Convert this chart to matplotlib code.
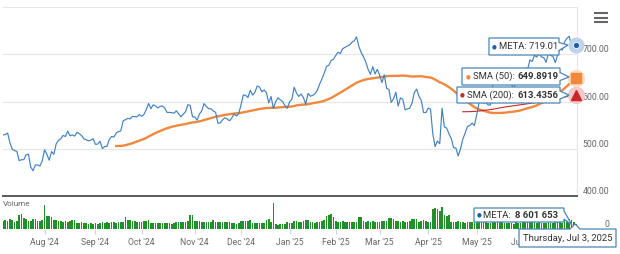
import matplotlib
matplotlib.use("Agg")
import matplotlib.pyplot as plt
import matplotlib.transforms as mtransforms
from matplotlib.patches import Polygon
import pandas as pd

plt.rcParams["font.family"] = ["Roboto", "DejaVu Sans"]

# META daily closes, Jul 8 2024 .. Jul 3 2025 (one per trading day)
close_2024 = [
    # Jul
    529.3, 530.0, 533.3, 512.7, 498.9, 496.2, 494.3, 474.8, 476.8, 476.8,
    487.0, 488.7, 461.3, 453.4, 465.7, 465.7, 463.2, 474.8,
    # Aug
    497.7, 488.1, 475.7, 494.1, 488.1, 510.1, 517.8, 520.9, 528.2, 525.9,
    537.3, 527.4, 529.3, 526.7, 535.0, 531.9, 528.0, 521.1, 519.1, 516.8,
    518.2, 521.3,
    # Sep
    509.3, 509.9, 515.8, 500.3, 504.8, 505.0, 520.0, 526.0, 524.6, 533.3,
    536.3, 537.9, 559.1, 561.4, 564.4, 563.3, 568.3, 567.8, 567.4, 572.4,
    # Oct
    568.6, 572.8, 582.8, 595.9, 584.8, 592.9, 590.5, 586.3, 589.9, 590.4,
    586.3, 576.8, 576.9, 576.5, 575.2, 580.3, 574.2, 567.8, 573.3, 578.2,
    593.3, 591.8, 567.6,
    # Nov
    567.2, 560.4, 573.5, 580.0, 595.6, 589.3, 584.8, 584.6, 580.0, 577.2,
    554.1, 554.4, 561.1, 565.5, 563.1, 559.1, 565.1, 573.5, 569.2, 574.3,
    # Dec
    592.8, 613.7, 613.0, 608.4, 623.8, 613.6, 619.3, 632.7, 630.8, 620.4,
    624.2, 618.8, 597.2, 610.5, 585.3, 599.8, 607.8, 603.4, 599.8, 591.2,
    585.5,
]
close_2025 = [
    # Jan
    599.2, 604.6, 630.2, 617.9, 610.7, 615.9, 608.3, 594.3, 617.1, 611.3,
    612.8, 616.5, 623.5, 636.5, 647.5, 659.9, 674.3, 676.5, 687.0, 689.2,
    # Feb
    697.5, 704.2, 701.6, 711.9, 714.5, 717.4, 719.8, 725.4, 728.6, 736.7,
    716.4, 703.8, 694.8, 683.6, 668.1, 657.5, 673.7, 658.2, 668.2,
    # Mar
    655.6, 640.0, 656.5, 627.9, 625.7, 598.0, 605.7, 619.6, 590.3, 607.6,
    604.9, 582.4, 584.1, 586.0, 596.3, 618.9, 626.3, 611.0, 602.6, 576.7,
    576.4,
    # Apr
    586.0, 583.9, 531.6, 504.7, 516.3, 510.5, 585.8, 546.3, 543.6, 531.5,
    521.5, 502.3, 501.5, 484.7, 500.3, 520.3, 533.2, 547.3, 549.0, 554.4,
    549.0,
    # May
    572.2, 597.0, 599.3, 596.8, 598.0, 592.5, 592.9, 638.4, 657.7, 650.4,
    642.5, 640.3, 640.3, 635.5, 636.6, 636.6, 627.1, 642.3, 643.6, 645.1,
    647.5,
    # Jun
    670.9, 666.9, 687.95, 684.6, 697.7, 694.1, 702.4, 694.1, 693.1, 682.9,
    702.1, 697.2, 695.8, 682.35, 698.5, 712.2, 708.7, 726.1, 733.6, 738.1,
    # Jul
    719.2, 713.6, 719.01,
]

# daily volume, millions of shares
volume_2024 = [
    12.5, 14.2, 13.1, 16.0, 15.3, 11.8, 13.6, 21.8, 24.0, 17.2, 16.5, 12.1,
    13.4, 16.9, 15.8, 12.7, 13.3, 14.8,
    38.2, 21.5, 20.8, 19.6, 14.2, 14.7, 13.3, 12.2, 11.9, 12.6, 11.7, 12.4,
    14.1, 14.5, 10.2, 9.8, 10.6, 8.9, 9.3, 8.7, 9.1, 8.5,
    9.2, 8.8, 9.6, 10.9, 10.3, 11.0, 10.1, 10.7, 11.2, 10.4, 11.3, 10.9,
    11.6, 19.5, 14.3, 14.0, 13.2, 12.6, 11.1, 10.8,
    11.0, 13.2, 12.8, 13.9, 9.6, 10.1, 9.2, 9.8, 9.4, 9.0, 9.7, 9.3, 9.9,
    8.8, 9.5, 11.0, 10.6, 11.4, 10.8, 11.2, 12.4, 22.1, 22.6,
    13.4, 12.6, 12.9, 11.2, 10.7, 11.5, 10.9, 11.1, 14.3, 11.3, 10.8, 11.6,
    10.5, 11.0, 10.7, 11.2, 10.4, 9.2, 8.8, 9.0,
    12.8, 12.2, 13.0, 12.5, 14.1, 9.6, 9.3, 9.8, 9.4, 9.9, 9.2, 14.2, 15.8,
    11.0, 42.0, 7.6, 7.2, 7.8, 7.4, 7.9, 10.8,
]
volume_2025 = [
    9.6, 10.3, 12.9, 13.5, 11.8, 10.7, 12.4, 13.8, 14.6, 11.2, 10.9, 9.8,
    10.6, 11.5, 12.1, 15.2, 21.0, 22.6, 23.5, 19.4,
    12.1, 11.4, 10.8, 12.6, 11.9, 10.5, 11.2, 12.0, 10.9, 11.7, 18.6, 19.3,
    12.4, 11.8, 13.1, 11.5, 12.2, 10.9, 11.6,
    11.8, 13.2, 12.5, 12.9, 17.2, 17.8, 16.4, 12.6, 13.4, 11.9, 12.3, 11.5,
    10.8, 12.1, 16.1, 16.8, 15.4, 11.7, 12.6, 13.9, 12.2,
    11.5, 12.0, 31.8, 33.5, 32.2, 28.9, 35.4, 22.6, 21.3, 22.0, 11.8, 10.9,
    11.3, 12.1, 10.6, 11.4, 10.2, 10.9, 11.6, 10.8, 11.3,
    22.4, 18.6, 12.8, 10.9, 11.6, 10.4, 9.8, 16.2, 18.9, 13.1, 11.4, 12.0,
    9.6, 9.2, 10.1, 9.7, 8.8, 10.5, 9.9, 9.4, 13.6,
    11.6, 10.8, 12.9, 11.2, 13.4, 9.9, 10.6, 9.4, 9.1, 10.3, 11.5, 9.8,
    8.9, 21.8, 11.7, 13.2, 10.4, 15.6, 17.3, 16.8,
    14.2, 11.5, 8.601653,
]

market_holidays = ["2024-09-02", "2024-11-28", "2024-12-25", "2025-01-01",
                   "2025-01-09", "2025-01-20", "2025-02-17", "2025-04-18",
                   "2025-05-26", "2025-06-19"]

price_ticks = [400, 500, 600, 700, 800]
price_labels = ["400.00", "500.00", "600.00", "700.00", ""]

tip_meta = "META: 719.01"
tip_sma50 = ("SMA (50): ", "649.8919")
tip_sma200 = ("SMA (200): ", "613.4356")
tip_vol = ("META: ", "8 601 653")
tip_date = "Thursday, Jul 3, 2025"

close = close_2024 + close_2025
volume = volume_2024 + volume_2025
dates = pd.bdate_range("2024-07-08", "2025-07-03")
dates = dates[~dates.isin(pd.to_datetime(market_holidays))]
assert len(dates) == len(close) == len(volume), (len(dates), len(close), len(volume))

s = pd.Series(close)
sma50 = s.rolling(50).mean()
sma200 = s.rolling(200).mean()
idx = list(range(len(close)))

BLUE = "#4282c2"
ORANGE = "#f0883e"
RED = "#c62828"
GREEN = "#22902a"
GREY = "#666666"
TIPBORDER = "#4a86b8"

W, H = 620, 254
fig = plt.figure(figsize=(W / 100, H / 100), dpi=100)


def box(l, t, r, b):
    return [l / W, 1 - b / H, (r - l) / W, (b - t) / H]


ax = fig.add_axes(box(3, 7, 577, 196))
axv = fig.add_axes(box(3, 198, 577, 229))
xmax = len(close) - 0.6

# price pane
ax.plot(idx, close, color=BLUE, lw=0.85, zorder=3)
ax.plot(idx, sma50, color=ORANGE, lw=1.7, zorder=2)
ax.plot(idx, sma200, color=RED, lw=0.8, zorder=2)
ax.set_xlim(0, xmax)
ax.set_ylim(400, 800)
ax.set_yticks(price_ticks)
ax.grid(axis="y", color="#e6e6e6", lw=0.8)
ax.set_axisbelow(True)
ax.tick_params(left=False, right=False, bottom=False, labelleft=False, labelbottom=False)
for side in ["left", "top"]:
    ax.spines[side].set_visible(False)
ax.spines["right"].set_color("#e6e6e6")
ax.spines["right"].set_linewidth(0.8)
ax.spines["bottom"].set_color("#5a5a5a")
ax.spines["bottom"].set_linewidth(1.4)
tr = mtransforms.blended_transform_factory(ax.transAxes, ax.transData)
for v, lab in zip(price_ticks, price_labels):
    ax.text(1.0557, v, lab, transform=tr, ha="right", va="bottom",
            fontsize=6.3, color=GREY)

# end-of-series markers
last = idx[-1]
ax.plot(last, close[-1], "o", ms=10.5, color="#bcd3ea", clip_on=False, zorder=5)
ax.plot(last, close[-1], "o", ms=4.5, color="#1f5fa8", mec="white", mew=0.6,
        clip_on=False, zorder=6)
ax.plot(last, sma50.iloc[-1], "o", ms=11.5, color="#fadcc0", clip_on=False, zorder=5)
ax.plot(last, sma50.iloc[-1], "s", ms=6.5, color=ORANGE, clip_on=False, zorder=6)
ax.plot(last, sma200.iloc[-1], "o", ms=11.5, color="#f2c8c8", clip_on=False, zorder=5)
ax.plot(last, sma200.iloc[-1], "^", ms=6.5, color=RED, clip_on=False, zorder=6)

# volume pane
axv.bar(idx, volume, width=0.72, color=GREEN, edgecolor="none")
axv.set_xlim(0, xmax)
axv.set_ylim(0, 50)
for side in ["left", "top", "right", "bottom"]:
    axv.spines[side].set_visible(False)
# month ticks; the last one (Jul '25) sits under the date tooltip
month_start = [i for i in range(1, len(dates)) if dates[i].month != dates[i - 1].month][:-1]
axv.set_xticks(month_start)
axv.set_xticklabels([dates[i].strftime("%b '%y") for i in month_start])
axv.tick_params(axis="x", length=3.5, width=0.8, color="#ccd6eb", pad=3,
                labelsize=6.2, labelcolor=GREY)
axv.tick_params(axis="y", left=False, labelleft=False)
trv = mtransforms.blended_transform_factory(axv.transAxes, axv.transData)
axv.text(1.0557, 0, "0", transform=trv, ha="right", va="bottom", fontsize=6.3, color=GREY)
axv.text(0.0, 0.9, "Volume", transform=axv.transAxes, ha="left", va="top",
         fontsize=5.9, color=GREY)

# overlay in pixel coordinates for tooltips and menu icon
ov = fig.add_axes([0, 0, 1, 1], zorder=10)
ov.set_xlim(0, W)
ov.set_ylim(H, 0)
ov.axis("off")


def callout(l, t, r, b, tip, side="right"):
    cy = (t + b) / 2
    if side == "right":
        pts = [(l, t), (r, t), (r, cy - 4), tip, (r, cy + 4), (r, b), (l, b)]
    else:
        pts = [(l, t), (tip[0] - 5, t), tip, (tip[0] + 5, t), (r, t), (r, b), (l, b)]
    ov.add_patch(Polygon(pts, closed=True, fc="white", ec=TIPBORDER, lw=0.9))


tf = dict(fontsize=6.8, color="#333333", va="center")

callout(489, 38, 559, 55, (568, 45))
ov.text(494, 46.5, "\u25cf", fontsize=4, color="#1f5fa8", ha="center", va="center")
ov.text(499, 46.5, tip_meta, **tf)

callout(462, 68, 560, 85, (569, 77))
ov.text(468, 76.5, "\u25cf", fontsize=4, color=ORANGE, ha="center", va="center")
ov.text(473, 76.5, tip_sma50[0], **tf)
ov.text(518, 76.5, tip_sma50[1], fontweight="bold", **tf)

callout(457, 87, 560, 103, (569, 95))
ov.text(462, 95, "\u25cf", fontsize=4, color=RED, ha="center", va="center")
ov.text(467, 95, tip_sma200[0], **tf)
ov.text(518, 95, tip_sma200[1], fontweight="bold", **tf)

callout(474, 208, 564, 222, (572, 225))
ov.text(479, 215, "\u25cf", fontsize=4, color="#1f5fa8", ha="center", va="center")
ov.text(483, 215, tip_vol[0], **tf)
ov.text(515, 215, tip_vol[1], fontweight="bold", **tf)

callout(519, 229, 616, 247, (575, 224), side="top")
ov.text(567.5, 238.5, tip_date, ha="center", fontsize=6.8, color="#333333", va="center")

# menu icon
for y in [13, 17.5, 22]:
    ov.plot([594, 608], [y, y], color=GREY, lw=1.5, solid_capstyle="butt")

fig.savefig("out.png", dpi=100)
